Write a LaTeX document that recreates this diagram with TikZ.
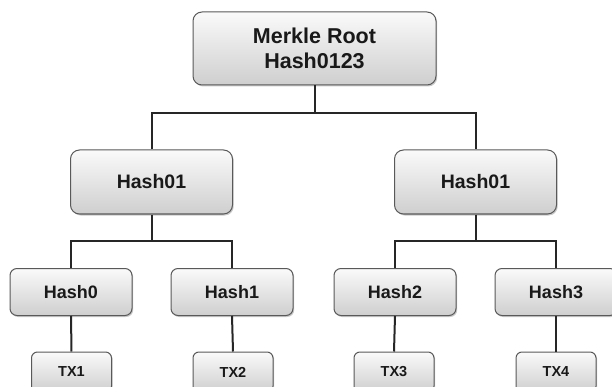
\documentclass[tikz,border=0pt]{standalone}
\usepackage{fontspec}
\setmainfont{Liberation Sans}
\usetikzlibrary{shadows}
\tikzset{
  box/.style={draw=black!65, line width=1pt, rounded corners=9pt,
    top color=gray!4, bottom color=gray!38,
    drop shadow={shadow xshift=1.2pt, shadow yshift=-1.5pt, opacity=0.35, fill=black!60},
    font=\bfseries, text=black!90, align=center, inner sep=0pt},
  rootbox/.style={box, minimum width=243pt, minimum height=73pt, font=\bfseries\fontsize{21.5}{25}\selectfont},
  midbox/.style={box, minimum width=162pt, minimum height=64pt, font=\bfseries\fontsize{19.5}{23}\selectfont},
  leafbox/.style={box, minimum width=122pt, minimum height=47pt, rounded corners=7pt, font=\bfseries\fontsize{18}{22}\selectfont},
  txbox/.style={box, minimum width=80pt, minimum height=40pt, rounded corners=6pt, font=\bfseries\fontsize{14.5}{17}\selectfont},
  link/.style={draw=black!85, line width=2pt}
}
\begin{document}
\begin{tikzpicture}[x=1pt, y=-1pt]
\useasboundingbox (0,0) rectangle (612,387);
\clip (0,0) rectangle (612,387);
\fill[white] (0,0) rectangle (612,387);
\coordinate (j0) at (314.5,113);
\coordinate (j1) at (151.5,241);
\coordinate (j2) at (475.5,241);
\node[rootbox] (root) at (314.5,48.5) {Merkle Root\\Hash0123};
\node[midbox] (hA) at (151.5,182) {Hash01};
\node[midbox] (hB) at (475.5,182) {Hash01};
\node[leafbox] (h0) at (71,292) {Hash0};
\node[leafbox] (h1) at (232,292) {Hash1};
\node[leafbox] (h2) at (395,292) {Hash2};
\node[leafbox] (h3) at (556,292) {Hash3};
\node[txbox] (t1) at (71.5,372) {TX1};
\node[txbox] (t2) at (233,372) {TX2};
\node[txbox] (t3) at (394,372) {TX3};
\node[txbox] (t4) at (556,372) {TX4};
\path[link] (root.south) -- (j0);
\path[link] (hA.north) |- (j0) -| (hB.north);
\path[link] (hA.south) -- (j1);
\path[link] (h0.north) |- (j1) -| (h1.north);
\path[link] (hB.south) -- (j2);
\path[link] (h2.north) |- (j2) -| (h3.north);
\path[link] (h0.south) -- (t1.north);
\path[link] (h1.south) -- (t2.north);
\path[link] (h2.south) -- (t3.north);
\path[link] (h3.south) -- (t4.north);
\end{tikzpicture}
\end{document}
